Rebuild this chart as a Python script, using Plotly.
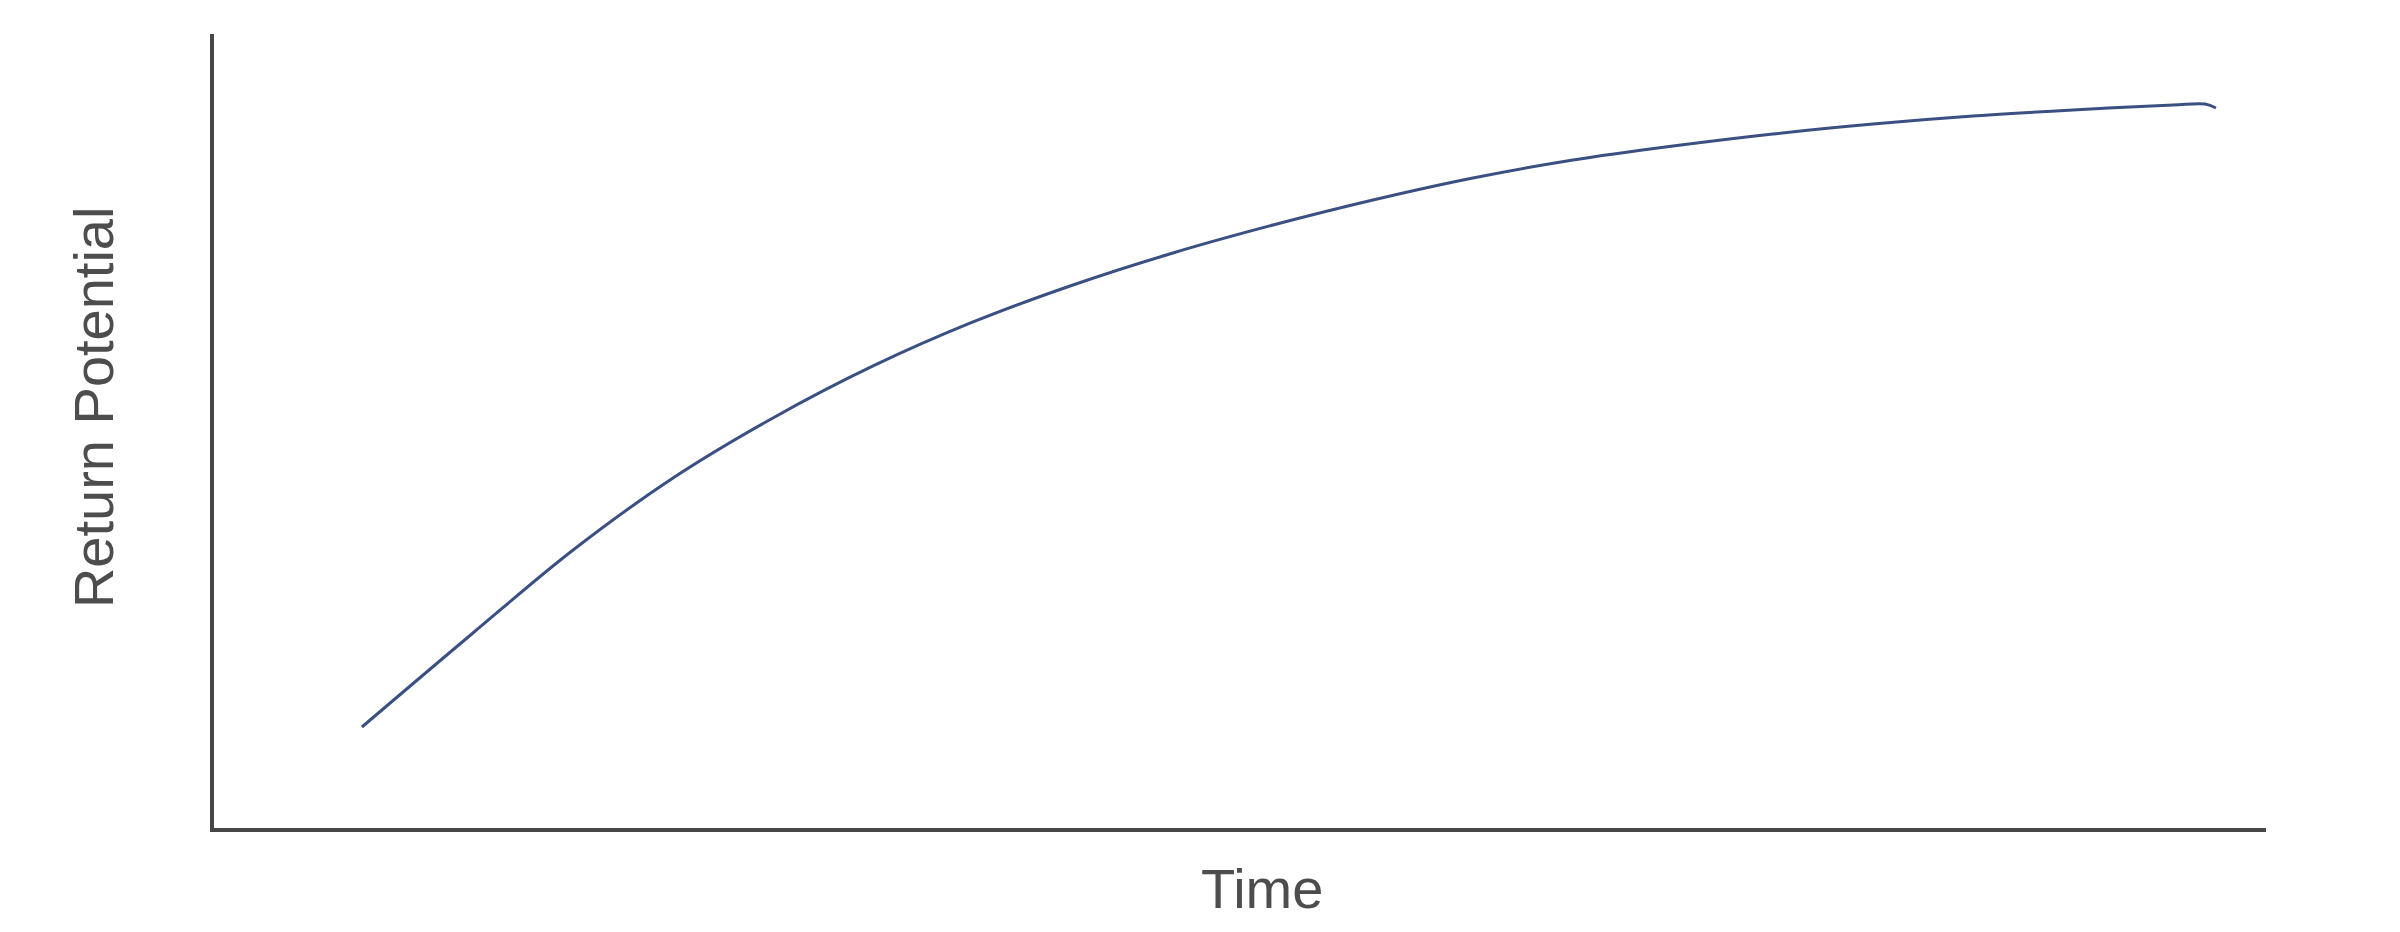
import plotly.graph_objects as go

# Data (arbitrary units, axis range 0-100)
time_values = [7.21, 12.62, 17.50, 22.37, 27.24, 32.12, 36.99, 41.86, 46.73, 51.61, 56.48,
               61.35, 66.23, 71.10, 75.97, 80.85, 85.72, 90.59, 95.47, 97.03, 97.56]
return_potential = [12.72, 24.56, 35.01, 44.08, 51.64, 58.19, 63.73, 68.39, 72.42, 75.94, 79.09,
                    81.86, 84.13, 85.89, 87.41, 88.66, 89.67, 90.43, 91.06, 91.18, 90.68]

x_title = "Time"
y_title = "Return Potential"

fig = go.Figure()
fig.add_trace(go.Scatter(
    x=time_values, y=return_potential, mode="lines",
    line=dict(color="#3b5082", width=3, shape="spline", smoothing=1.0),
    hoverinfo="skip", showlegend=False,
))

axis_common = dict(showgrid=False, zeroline=False, showticklabels=False, ticks="",
                   showline=True, linecolor="#474747", linewidth=4)
fig.update_xaxes(range=[0, 100], **axis_common)
fig.update_yaxes(range=[0, 100], **axis_common)

font_family = "Liberation Sans, Arial, sans-serif"
fig.add_annotation(text=x_title, xref="paper", yref="paper", x=0.5107, y=-0.0768,
                   xanchor="center", yanchor="middle", showarrow=False,
                   font=dict(family=font_family, size=56, color="#4d4d4d"))
fig.add_annotation(text=y_title, xref="paper", yref="paper", x=-0.059, y=0.530,
                   xanchor="center", yanchor="middle", showarrow=False, textangle=-90,
                   font=dict(family=font_family, size=56, color="#4d4d4d"))

# page body has an 8px margin, so the figure is sized to fit the 2400x932 window
fig.update_layout(
    width=2384, height=916,
    margin=dict(l=206, r=126, t=26, b=96),
    paper_bgcolor="white", plot_bgcolor="white",
)

fig.write_html("out.html")
